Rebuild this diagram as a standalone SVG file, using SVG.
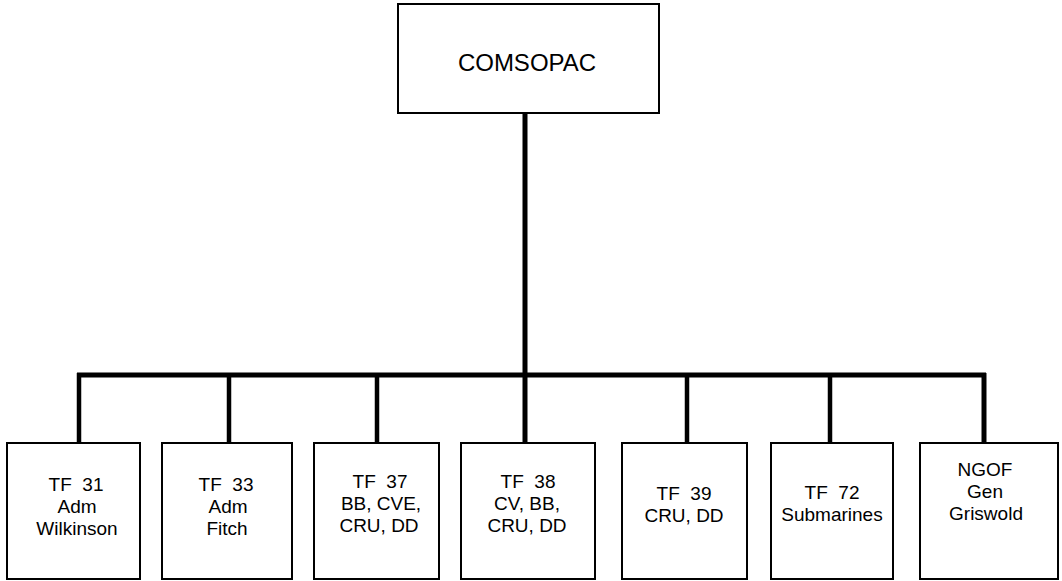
<svg xmlns="http://www.w3.org/2000/svg" width="1062" height="581" viewBox="0 0 1062 581">
<style>
.box{fill:#fff;stroke:#000;stroke-width:2}
.t{font-family:"Liberation Sans",Arial,sans-serif;font-size:19px;text-anchor:middle;fill:#000;white-space:pre}
.big{font-size:24px}
.trunk{stroke:#000;stroke-width:5;fill:none}
.drop{stroke:#000;stroke-width:4.5;fill:none}
</style>
<rect width="1062" height="581" fill="#fff"/>
<g id="connectors">
<line class="trunk" x1="525" y1="113" x2="525" y2="377"/>
<line class="trunk" x1="77" y1="375" x2="986" y2="375"/>
<line class="drop" x1="79" y1="373" x2="79" y2="443"/>
<line class="drop" x1="229" y1="375" x2="229" y2="443"/>
<line class="drop" x1="377" y1="375" x2="377" y2="443"/>
<line class="trunk" x1="525" y1="375" x2="525" y2="443"/>
<line class="drop" x1="687" y1="375" x2="687" y2="443"/>
<line class="drop" x1="830" y1="375" x2="830" y2="443"/>
<line class="trunk" x1="984" y1="373" x2="984" y2="443"/>
</g>
<g id="comsopac">
<rect class="box" x="398" y="4" width="261" height="109"/>
<text class="t big" x="527" y="71">COMSOPAC</text>
</g>
<g id="tf31">
<rect class="box" x="7" y="443" width="133" height="136"/>
<text class="t" x="76" y="491">TF  31</text>
<text class="t" x="77" y="513">Adm</text>
<text class="t" x="77" y="535">Wilkinson</text>
</g>
<g id="tf33">
<rect class="box" x="162" y="443" width="130" height="136"/>
<text class="t" x="226" y="491">TF  33</text>
<text class="t" x="228" y="513">Adm</text>
<text class="t" x="227" y="535">Fitch</text>
</g>
<g id="tf37">
<rect class="box" x="314" y="443" width="125" height="136"/>
<text class="t" x="380" y="488">TF  37</text>
<text class="t" x="381" y="510">BB, CVE,</text>
<text class="t" x="379" y="532">CRU, DD</text>
</g>
<g id="tf38">
<rect class="box" x="461" y="443" width="134" height="136"/>
<text class="t" x="528" y="488">TF  38</text>
<text class="t" x="527" y="510">CV, BB,</text>
<text class="t" x="527" y="532">CRU, DD</text>
</g>
<g id="tf39">
<rect class="box" x="622" y="443" width="125" height="136"/>
<text class="t" x="684" y="500">TF  39</text>
<text class="t" x="684" y="522">CRU, DD</text>
</g>
<g id="tf72">
<rect class="box" x="771" y="443" width="122" height="136"/>
<text class="t" x="832" y="499">TF  72</text>
<text class="t" x="832" y="521">Submarines</text>
</g>
<g id="ngof">
<rect class="box" x="920" y="443" width="138" height="136"/>
<text class="t" x="985" y="476">NGOF</text>
<text class="t" x="985" y="498">Gen</text>
<text class="t" x="986" y="520">Griswold</text>
</g>
</svg>
